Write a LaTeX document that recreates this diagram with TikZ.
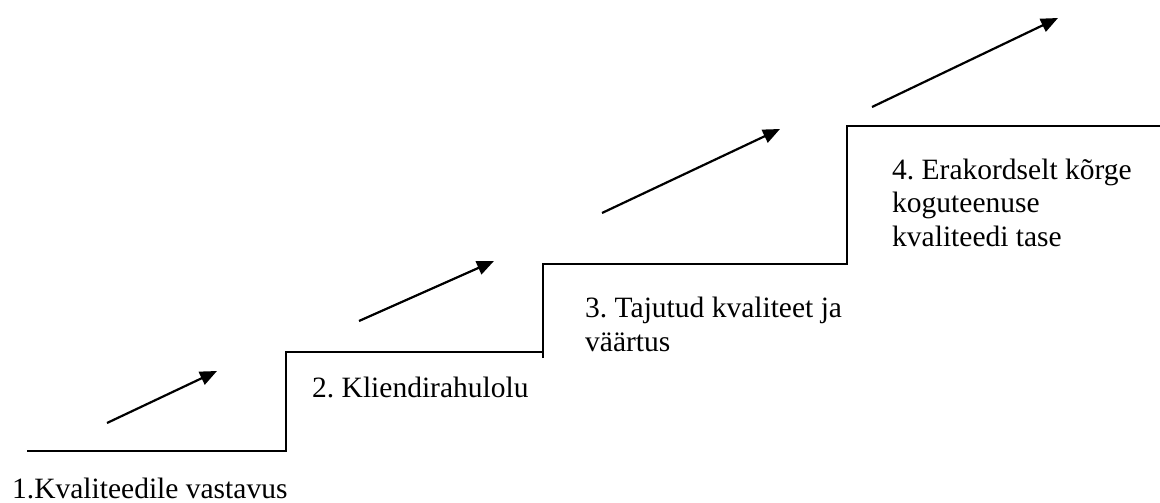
\documentclass[tikz,border=0pt]{standalone}
\usepackage{fontspec}
\setmainfont{Liberation Serif}
\usetikzlibrary{arrows.meta}
\frenchspacing
\begin{document}
\begin{tikzpicture}[x=1pt,y=-1pt,
  stair/.style={line width=1.8pt,line join=miter},
  growth/.style={line width=2.2pt,-{Triangle[length=17pt,width=14pt]}},
  label/.style={anchor=base west,inner sep=0pt,align=left,
    font=\fontsize{29.5pt}{33.5pt}\selectfont}]
\useasboundingbox (0,0) rectangle (1160,503);

% staircase of quality levels
\coordinate (s0) at (27,451);
\coordinate (s1) at (286,451);
\coordinate (s2) at (286,352);
\coordinate (s3) at (543,352);
\coordinate (s3b) at (543,358);
\coordinate (s4) at (543,264);
\coordinate (s5) at (847,264);
\coordinate (s6) at (847,126);
\coordinate (s7) at (1160,126);
\draw[stair] (s0) -- (s1) -- (s2) -- (s3);
\draw[stair] (s3b) -- (s4) -- (s5) -- (s6) -- (s7);

% upward arrows between steps
\coordinate (a1) at (107,423); \coordinate (b1) at (217,371);
\coordinate (a2) at (359,321); \coordinate (b2) at (494,261);
\coordinate (a3) at (602,213); \coordinate (b3) at (780,129);
\coordinate (a4) at (872,107); \coordinate (b4) at (1058,18);
\draw[growth] (a1) -- (b1);
\draw[growth] (a2) -- (b2);
\draw[growth] (a3) -- (b3);
\draw[growth] (a4) -- (b4);

% level names (base anchor sits on the last line)
\node[label] (l1) at (12,498) {1.Kvaliteedile vastavus};
\node[label] (l2) at (312,397) {2. Kliendirahulolu};
\node[label] (l3) at (585,351) {3. Tajutud kvaliteet ja\\väärtus};
\node[label] (l4) at (892,246) {4. Erakordselt kõrge\\koguteenuse\\kvaliteedi tase};
\end{tikzpicture}
\end{document}
